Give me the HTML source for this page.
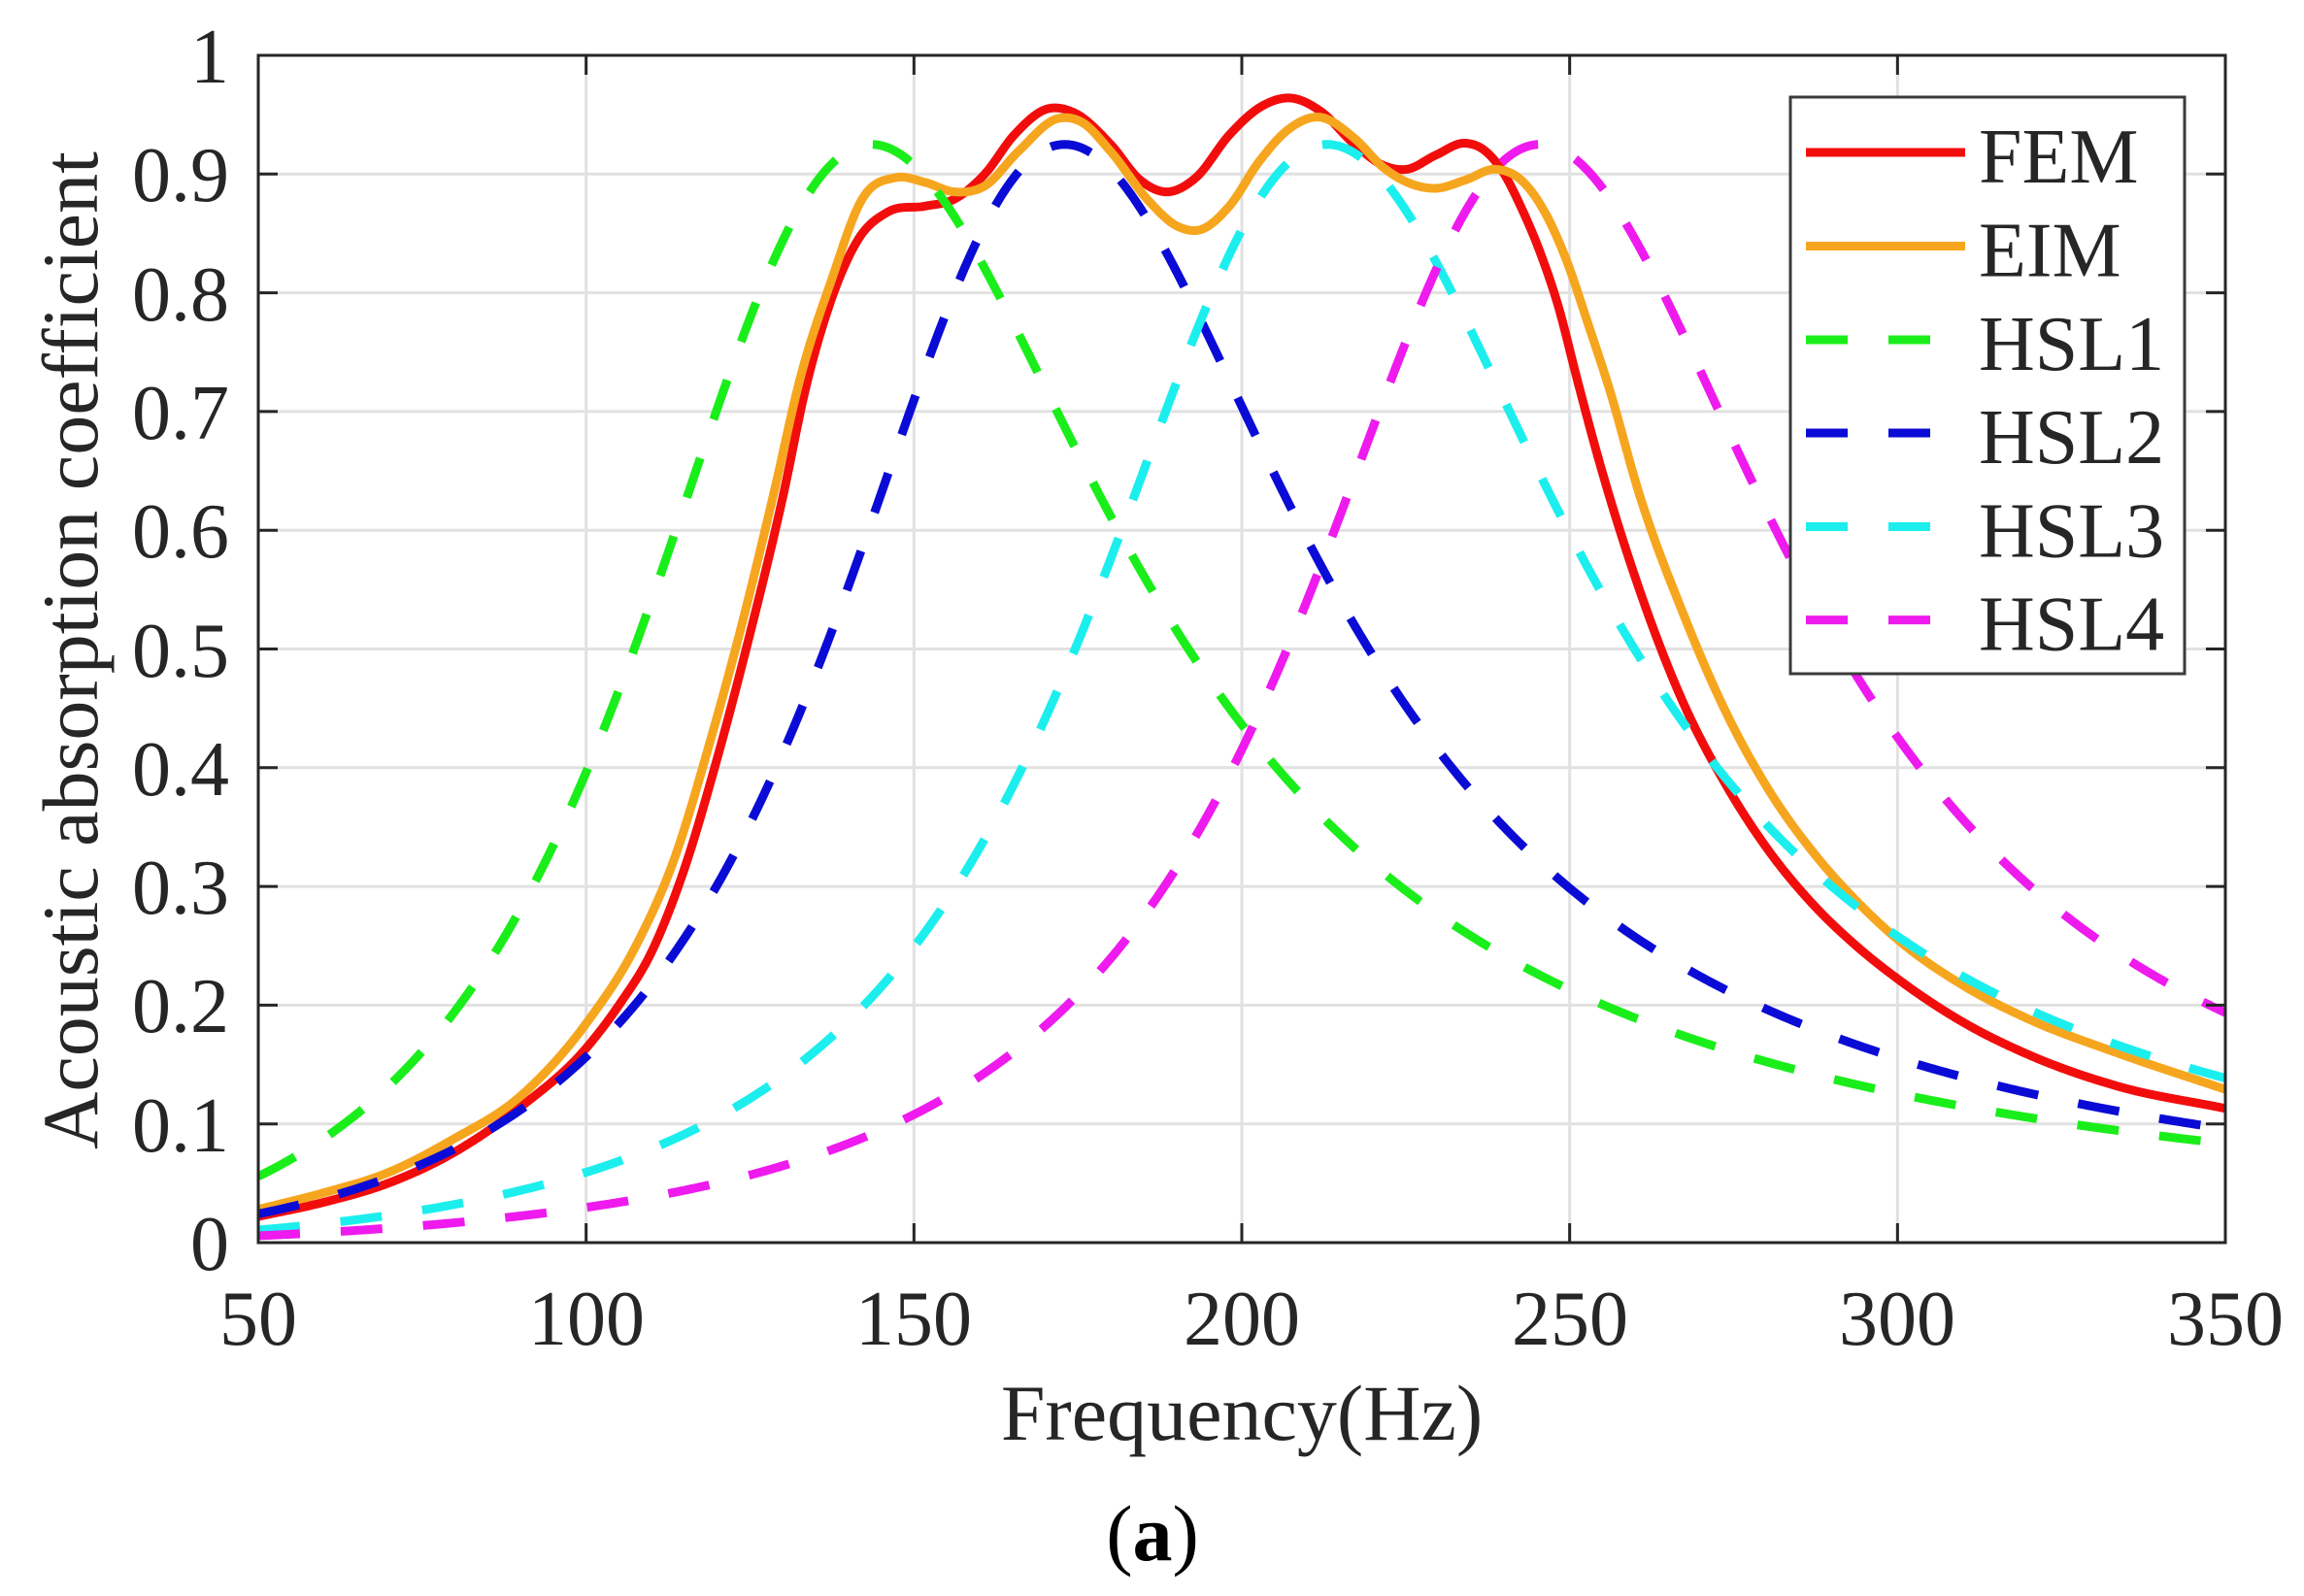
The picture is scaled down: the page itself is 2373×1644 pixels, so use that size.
<!DOCTYPE html>
<html>
<head>
<meta charset="utf-8">
<style>
  html,body{margin:0;padding:0;background:#fff;}
  body{width:2373px;height:1644px;overflow:hidden;position:relative;}
  svg{position:absolute;left:0;top:0;}
  text{font-family:"Liberation Serif","Times New Roman",serif;fill:#262626;}
</style>
</head>
<body>
<svg id="chart" width="2373" height="1644" viewBox="0 0 2373 1644" xmlns="http://www.w3.org/2000/svg">
  <defs>
    <clipPath id="plotclip"><rect x="266" y="57" width="2026" height="1223"/></clipPath>
  </defs>
  <rect x="0" y="0" width="2373" height="1644" fill="#ffffff"/>
  <rect x="266" y="57" width="2026" height="1223" fill="#ffffff"/>
  <!-- grid -->
  <g id="grid" stroke="#e1e1e1" stroke-width="3" fill="none"></g>
  <!-- series -->
  <g clip-path="url(#plotclip)" fill="none" stroke-linejoin="round">
    <path id="fem" stroke="#f20d0d" stroke-width="9"/>
    <path id="eim" stroke="#f6a61e" stroke-width="9"/>
    <path id="h1" stroke="#1aee1a" stroke-width="9" stroke-dasharray="43 42"/>
    <path id="h2" stroke="#0b0bd6" stroke-width="9" stroke-dasharray="43 42"/>
    <path id="h3" stroke="#1ceeee" stroke-width="9" stroke-dasharray="43 42"/>
    <path id="h4" stroke="#ee1aee" stroke-width="9" stroke-dasharray="43 42"/>
  </g>
  <!-- axes box and ticks -->
  <g id="ticks" stroke="#262626" stroke-width="3" fill="none"></g>
  <rect x="266" y="57" width="2026" height="1223" fill="none" stroke="#262626" stroke-width="3"/>

  <!-- y tick labels -->
  <g font-size="80" text-anchor="end">
    <text x="236" y="1308">0</text>
    <text x="236" y="1186">0.1</text>
    <text x="236" y="1063">0.2</text>
    <text x="236" y="941">0.3</text>
    <text x="236" y="819">0.4</text>
    <text x="236" y="697">0.5</text>
    <text x="236" y="574">0.6</text>
    <text x="236" y="452">0.7</text>
    <text x="236" y="330">0.8</text>
    <text x="236" y="207">0.9</text>
    <text x="236" y="85">1</text>
  </g>
  <!-- x tick labels -->
  <g font-size="80" text-anchor="middle">
    <text x="266" y="1385">50</text>
    <text x="604" y="1385">100</text>
    <text x="941" y="1385">150</text>
    <text x="1279" y="1385">200</text>
    <text x="1617" y="1385">250</text>
    <text x="1954" y="1385">300</text>
    <text x="2292" y="1385">350</text>
  </g>
  <!-- axis labels -->
  <text x="1279" y="1483" font-size="82" text-anchor="middle">Frequency(Hz)</text>
  <text transform="translate(100,670) rotate(-90)" x="0" y="0" font-size="82" text-anchor="middle">Acoustic absorption coefficient</text>
  <text x="1187" y="1607" font-size="82" text-anchor="middle" style="fill:#000">(<tspan font-weight="bold">a</tspan>)</text>

  <!-- legend -->
  <rect x="1844" y="100" width="406" height="594" fill="#ffffff" stroke="#3a3a3a" stroke-width="3"/>
  <g stroke-width="9" fill="none">
    <line x1="1860" y1="157" x2="2024" y2="157" stroke="#f20d0d"/>
    <line x1="1860" y1="253.5" x2="2024" y2="253.5" stroke="#f6a61e"/>
    <line x1="1860" y1="350" x2="1990" y2="350" stroke="#1aee1a" stroke-dasharray="43 42"/>
    <line x1="1860" y1="446" x2="1990" y2="446" stroke="#0b0bd6" stroke-dasharray="43 42"/>
    <line x1="1860" y1="542.5" x2="1990" y2="542.5" stroke="#1ceeee" stroke-dasharray="43 42"/>
    <line x1="1860" y1="638.6" x2="1990" y2="638.6" stroke="#ee1aee" stroke-dasharray="43 42"/>
  </g>
  <g font-size="80" style="fill:#111">
    <text x="2038" y="188">FEM</text>
    <text x="2038" y="284.5">EIM</text>
    <text x="2038" y="381">HSL1</text>
    <text x="2038" y="477">HSL2</text>
    <text x="2038" y="573.5">HSL3</text>
    <text x="2038" y="669.6">HSL4</text>
  </g>
</svg>
<script>
(function(){
  var L=266,R=2292,T=57,B=1280;
  function fx(f){return L+(f-50)*(R-L)/300;}
  function vy(v){return B-v*(B-T);}
  var NS="http://www.w3.org/2000/svg";
  var grid=document.getElementById('grid');
  var ticks=document.getElementById('ticks');
  function ln(g,x1,y1,x2,y2){var e=document.createElementNS(NS,'line');e.setAttribute('x1',x1);e.setAttribute('y1',y1);e.setAttribute('x2',x2);e.setAttribute('y2',y2);g.appendChild(e);}
  for(var f=100;f<=300;f+=50){var x=fx(f);ln(grid,x,T,x,B);}
  for(var i=1;i<=9;i++){var y=vy(i/10);ln(grid,L,y,R,y);}
  var tl=20;
  for(var f=50;f<=350;f+=50){var x=fx(f);ln(ticks,x,B,x,B-tl);ln(ticks,x,T,x,T+tl);}
  for(var i=0;i<=10;i++){var y=vy(i/10);ln(ticks,L,y,L+tl,y);ln(ticks,R,y,R-tl,y);}

  function hsl(f0,q2){
    var d='';
    for(var k=0;k<=600;k++){
      var f=50+k*0.5;
      var r=f/f0-f0/f;
      var a=0.925/(1+q2*r*r);
      d+=(k===0?'M':'L')+fx(f).toFixed(2)+','+vy(a).toFixed(2);
    }
    return d;
  }
  function herm(pts){
    var n=pts.length,h=[],dl=[],m=[],i;
    for(i=0;i<n-1;i++){h[i]=pts[i+1][0]-pts[i][0];dl[i]=(pts[i+1][1]-pts[i][1])/h[i];}
    m[0]=dl[0];m[n-1]=dl[n-2];
    for(i=1;i<n-1;i++){m[i]=(h[i]*dl[i-1]+h[i-1]*dl[i])/(h[i-1]+h[i]);}
    var d='M'+fx(pts[0][0]).toFixed(2)+','+vy(pts[0][1]).toFixed(2);
    for(i=0;i<n-1;i++){
      var steps=Math.max(4,Math.ceil(h[i]/0.25));
      for(var s=1;s<=steps;s++){
        var t=s/steps,t2=t*t,t3=t2*t;
        var h00=2*t3-3*t2+1,h10=t3-2*t2+t,h01=-2*t3+3*t2,h11=t3-t2;
        var v=h00*pts[i][1]+h10*h[i]*m[i]+h01*pts[i+1][1]+h11*h[i]*m[i+1];
        var f=pts[i][0]+t*h[i];
        d+='L'+fx(f).toFixed(2)+','+vy(v).toFixed(2);
      }
    }
    return d;
  }
  var FEM=[[50,0.022],[60,0.034],[69.8,0.05],[79.7,0.0755],[89.7,0.113],[100.2,0.165],[105,0.2],[110,0.245],[115,0.315],[120,0.408],[125,0.513],[130,0.628],[133.5,0.72],[137.5,0.796],[141.5,0.845],[146,0.868],[151.7,0.873],[156.2,0.879],[160.8,0.9],[165.3,0.933],[170.4,0.955],[174.3,0.952],[180,0.925],[184.5,0.895],[188.5,0.885],[193,0.897],[198.1,0.933],[203,0.957],[207.5,0.964],[212,0.953],[217.2,0.925],[221.7,0.907],[225.1,0.904],[229.6,0.916],[234.1,0.926],[237,0.92],[239.8,0.902],[242.6,0.872],[245.5,0.834],[248.3,0.788],[251.1,0.728],[254.1,0.666],[260.7,0.549],[267.3,0.455],[273.9,0.385],[280.5,0.329],[287.1,0.285],[293.7,0.250],[300.3,0.221],[310.2,0.185],[320.1,0.158],[333.4,0.132],[350,0.113]];
  var EIM=[[50,0.028],[60,0.042],[69.8,0.059],[79.7,0.087],[89.7,0.122],[100.2,0.186],[107.5,0.249],[113.5,0.324],[118.7,0.418],[124,0.526],[128.7,0.633],[132.6,0.727],[137.5,0.812],[142,0.878],[147.2,0.897],[151.7,0.893],[156.2,0.885],[160.8,0.89],[165.9,0.919],[172.1,0.947],[175.5,0.944],[180,0.919],[185.7,0.878],[190.2,0.856],[193.6,0.853],[198.1,0.873],[202.7,0.911],[207.2,0.938],[211.7,0.948],[217.2,0.93],[221.7,0.905],[225.7,0.892],[229.6,0.888],[234.1,0.895],[238.7,0.904],[242.6,0.895],[246,0.87],[249.4,0.829],[252.8,0.774],[256,0.72],[260.7,0.629],[267.3,0.53],[273.9,0.446],[280.5,0.38],[287.1,0.329],[293.7,0.288],[300.3,0.254],[310.2,0.216],[320.1,0.188],[333.4,0.16],[350,0.129]];
  document.getElementById('fem').setAttribute('d',herm(FEM));
  document.getElementById('eim').setAttribute('d',herm(EIM));
  document.getElementById('h1').setAttribute('d',hsl(143.5,2.45));
  document.getElementById('h2').setAttribute('d',hsl(173,3.7));
  document.getElementById('h3').setAttribute('d',hsl(213,5.3));
  document.getElementById('h4').setAttribute('d',hsl(245.5,7.2));
})();
</script>
</body>
</html>
